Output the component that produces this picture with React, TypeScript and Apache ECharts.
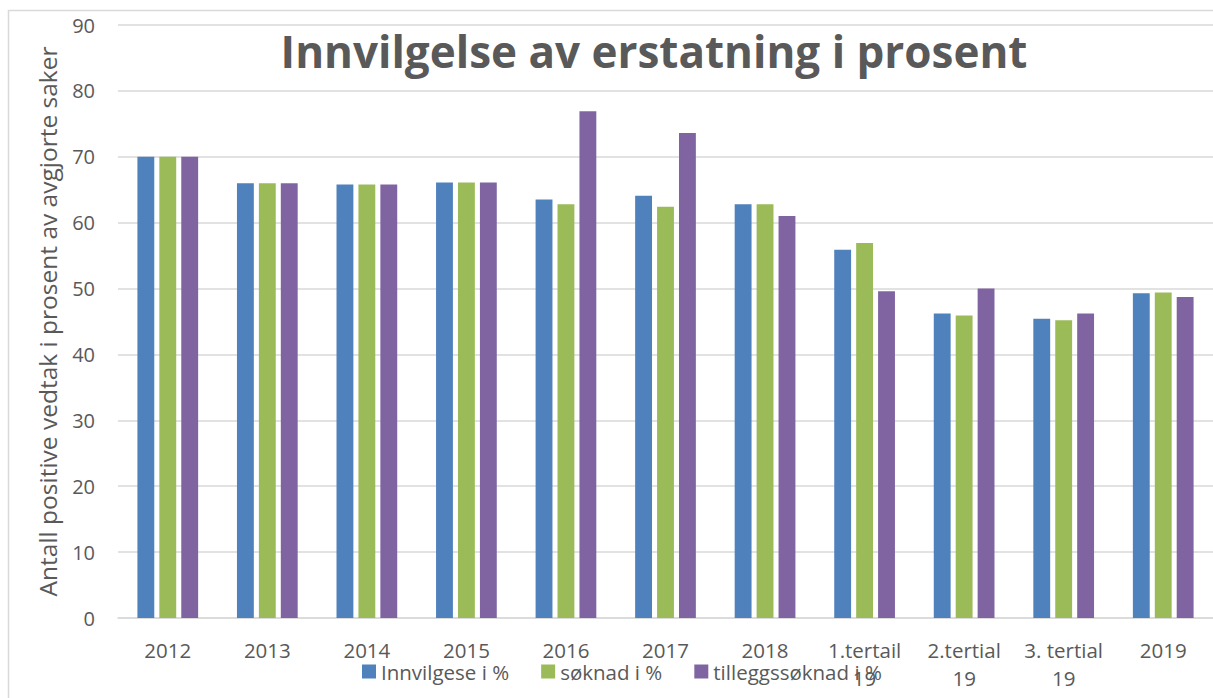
import React, { useEffect, useRef } from "react";
import * as echarts from "echarts";

const categories = ["2012", "2013", "2014", "2015", "2016", "2017", "2018", "1.tertail\n19", "2.tertial\n19", "3. tertial\n19", "2019"];
const innvilgelse = [70, 66, 65.8, 66.1, 63.5, 64.1, 62.8, 55.9, 46.2, 45.4, 49.3];
const soknad = [70, 66, 65.8, 66.1, 62.8, 62.4, 62.8, 56.9, 45.9, 45.2, 49.4];
const tillegg = [70, 66, 65.8, 66.1, 76.9, 73.6, 61.0, 49.6, 50.0, 46.2, 48.7];
const seriesNames = ["Innvilgese i %", "søknad i %", "tilleggssøknad i %"];
const titleText = "Innvilgelse av erstatning i prosent";
const yAxisName = "Antall positive vedtak i prosent av avgjorte saker";

const FONT = "'Open Sans', sans-serif";
const TXT = "#595959";

export default function App() {
  const ref = useRef<HTMLDivElement>(null);
  useEffect(() => {
    const chart = echarts.init(ref.current!, null, { renderer: "svg" });
    const colors = ["#4f81bd", "#9bbb59", "#8064a2"];
    const data = [innvilgelse, soknad, tillegg];
    chart.setOption({
      animation: false,
      textStyle: { fontFamily: FONT },
      title: {
        text: titleText,
        left: 649,
        textAlign: "center",
        top: 24,
        textStyle: { fontFamily: FONT, fontSize: 44, fontWeight: "bold", color: TXT },
      },
      graphic: [
        {
          type: "rect",
          shape: { x: 8.5, y: 10.5, width: 1240, height: 720 },
          style: { fill: "none", stroke: "#d9d9d9", lineWidth: 1.5 },
          silent: true,
          z: -10,
        },
      ],
      legend: {
        left: 357,
        top: 656,
        icon: "rect",
        itemWidth: 14,
        itemHeight: 14,
        itemGap: 32,
        textStyle: { fontFamily: FONT, fontSize: 20.5, color: TXT },
        data: seriesNames,
      },
      grid: { left: 118, right: -7, top: 25, bottom: 80, containLabel: false },
      xAxis: {
        type: "category",
        data: categories,
        axisLine: { lineStyle: { color: "#d9d9d9", width: 1.5 } },
        axisTick: { show: false },
        axisLabel: { color: TXT, fontSize: 20.5, fontFamily: FONT, margin: 18, lineHeight: 28, interval: 0 },
      },
      yAxis: {
        type: "value",
        min: 0,
        max: 90,
        interval: 10,
        name: yAxisName,
        nameLocation: "middle",
        nameRotate: 90,
        nameGap: 58,
        nameTextStyle: { color: TXT, fontSize: 24.5, fontFamily: FONT },
        axisLine: { show: false },
        axisTick: { show: false },
        splitLine: { lineStyle: { color: "#d9d9d9", width: 1.5 } },
        axisLabel: { color: TXT, fontSize: 20, fontFamily: FONT, margin: 23 },
      },
      series: seriesNames.map((n, i) => ({
        name: n,
        type: "bar",
        data: data[i],
        itemStyle: { color: colors[i] },
        barGap: "30%",
        barCategoryGap: "39%",
      })),
    });
    return () => chart.dispose();
  }, []);
  return (
    <div
      ref={ref}
      style={{ position: "fixed", left: 0, top: 0, width: 1213, height: 698, background: "#fff" }}
    />
  );
}
